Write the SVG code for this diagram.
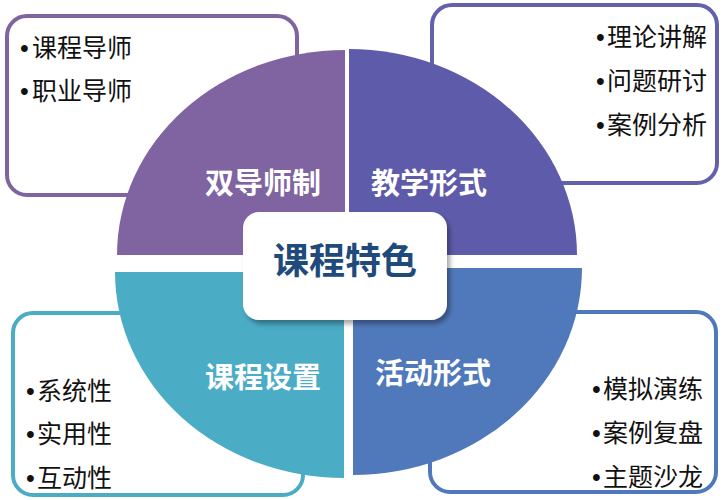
<svg xmlns="http://www.w3.org/2000/svg" width="724" height="500" viewBox="0 0 724 500">
<defs>
<filter id="sh" x="-10%" y="-10%" width="130%" height="140%">
<feDropShadow dx="3" dy="4" stdDeviation="2.5" flood-color="#000" flood-opacity="0.35"/>
</filter>
<style>
.box{fill:#fff;stroke-width:4}
.item{font-family:"Noto Sans CJK SC","Liberation Sans",sans-serif;font-size:25px;fill:#111}
.dot{font-family:"Liberation Sans",sans-serif}
.lab{font-family:"Noto Sans CJK SC",sans-serif;font-size:29px;font-weight:bold;fill:#fff;text-anchor:middle}
.title{font-family:"Noto Sans CJK SC",sans-serif;font-size:36px;font-weight:bold;fill:#1F4A7C;text-anchor:middle}
</style>
</defs>
<rect width="724" height="500" fill="#fff"/>

<g id="box-tl">
<rect class="box" x="7" y="16" width="290" height="179" rx="20" stroke="#8064A2"/>
<text class="item"><tspan class="dot" x="20" y="57">•</tspan><tspan x="32" y="57">课程导师</tspan></text>
<text class="item"><tspan class="dot" x="20" y="100">•</tspan><tspan x="32" y="100">职业导师</tspan></text>
</g>
<g id="box-tr">
<rect class="box" x="432" y="5" width="285" height="178" rx="20" stroke="#6461AC"/>
<text class="item"><tspan class="dot" x="596" y="46">•</tspan><tspan x="607" y="46">理论讲解</tspan></text>
<text class="item"><tspan class="dot" x="596" y="90">•</tspan><tspan x="607" y="90">问题研讨</tspan></text>
<text class="item"><tspan class="dot" x="596" y="134">•</tspan><tspan x="607" y="134">案例分析</tspan></text>
</g>
<g id="box-bl">
<rect class="box" x="13" y="313" width="290" height="182" rx="20" stroke="#4BACC6"/>
<text class="item"><tspan class="dot" x="26" y="400">•</tspan><tspan x="37" y="400">系统性</tspan></text>
<text class="item"><tspan class="dot" x="26" y="443">•</tspan><tspan x="37" y="443">实用性</tspan></text>
<text class="item"><tspan class="dot" x="26" y="487">•</tspan><tspan x="37" y="487">互动性</tspan></text>
</g>
<g id="box-br">
<rect class="box" x="430" y="312" width="286" height="180" rx="20" stroke="#5079BB"/>
<text class="item"><tspan class="dot" x="592" y="398">•</tspan><tspan x="603" y="398">模拟演练</tspan></text>
<text class="item"><tspan class="dot" x="592" y="442">•</tspan><tspan x="603" y="442">案例复盘</tspan></text>
<text class="item"><tspan class="dot" x="592" y="486">•</tspan><tspan x="603" y="486">主题沙龙</tspan></text>
</g>

<g id="q-tl">
<path d="M345,255 L117,255 A228,205 0 0 1 345,50 Z" fill="#8064A2"/>
<text class="lab" x="263" y="194">双导师制</text>
</g>
<g id="q-tr">
<path d="M349,255 L349,49 A228,206 0 0 1 577,255 Z" fill="#5E5BAA"/>
<text class="lab" x="429" y="194">教学形式</text>
</g>
<g id="q-bl">
<path d="M344,272 L344,478 A229,206 0 0 1 115,272 Z" fill="#4BACC6"/>
<text class="lab" x="263" y="388">课程设置</text>
</g>
<g id="q-br">
<path d="M353,268 L582,268 A229,207 0 0 1 353,475 Z" fill="#5079BB"/>
<text class="lab" x="433" y="384">活动形式</text>
</g>

<g id="center">
<rect x="243" y="212" width="204" height="108" rx="16" fill="#fff" filter="url(#sh)"/>
<text class="title" x="345" y="274">课程特色</text>
</g>
<g id="connectors"></g>
</svg>
